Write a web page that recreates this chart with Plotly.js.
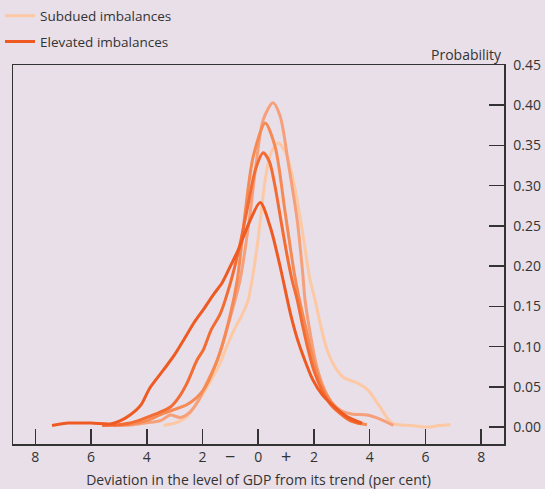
<!DOCTYPE html>
<html>
<head>
<meta charset="utf-8">
<script src="https://cdn.plot.ly/plotly-3.0.1.min.js"></script>
<style>html,body{margin:0;padding:0;background:#e8dfe8;}#chart{width:545px;height:489px;}</style>
</head>
<body>
<div id="chart"></div>
<script>
// Subdued imbalances (lightest)
const subduedX = [-3.4, -2.9, -2.55, -2.2, -1.83, -1.36, -1.18, -0.82, -0.6, -0.36, -0.04, 0.25, 0.45, 0.72, 1.0, 1.3, 1.6, 1.85, 2.04, 2.25, 2.47, 2.75, 3.05, 3.3, 3.55, 3.94, 4.37, 4.8, 5.5, 6.05, 6.5, 6.9];
const subduedY = [0.002, 0.006, 0.013, 0.03, 0.05, 0.08, 0.096, 0.124, 0.138, 0.158, 0.224, 0.307, 0.34, 0.353, 0.34, 0.30, 0.24, 0.185, 0.158, 0.125, 0.096, 0.075, 0.062, 0.058, 0.055, 0.046, 0.025, 0.005, 0.002, 0.0, 0.002, 0.003];

// Intermediate series (light to dark)
const series2X = [-5.0, -4.5, -3.87, -3.5, -3.15, -2.8, -2.44, -2.08, -1.97, -1.47, -1.0, -0.65, -0.29, -0.1, 0.18, 0.53, 0.79, 1.08, 1.4, 1.6, 1.68, 1.9, 2.1, 2.4, 2.7, 3.0, 3.4, 3.9, 4.37, 4.85];
const series2Y = [0.002, 0.003, 0.006, 0.008, 0.015, 0.012, 0.019, 0.037, 0.046, 0.083, 0.137, 0.183, 0.266, 0.32, 0.382, 0.403, 0.386, 0.328, 0.257, 0.19, 0.158, 0.11, 0.075, 0.045, 0.028, 0.02, 0.016, 0.015, 0.01, 0.002];

const series3X = [-5.2, -4.5, -4.0, -3.4, -3.0, -2.55, -1.97, -1.4, -1.0, -0.75, -0.47, -0.18, 0.25, 0.61, 0.97, 1.3, 1.5, 1.75, 2.0, 2.3, 2.6, 2.9, 3.2, 3.5, 3.9];
const series3Y = [0.002, 0.004, 0.008, 0.017, 0.022, 0.028, 0.046, 0.09, 0.14, 0.183, 0.266, 0.336, 0.378, 0.348, 0.266, 0.19, 0.155, 0.117, 0.08, 0.05, 0.032, 0.02, 0.012, 0.006, 0.003];

const series4X = [-5.6, -5.0, -4.6, -4.23, -3.7, -3.15, -2.85, -2.55, -2.2, -1.97, -1.7, -1.36, -1.0, -0.7, -0.4, -0.1, 0.18, 0.4, 0.6, 0.8, 1.0, 1.2, 1.4, 1.6, 1.8, 2.0, 2.3, 2.6, 2.9, 3.3, 3.7];
const series4Y = [0.002, 0.003, 0.005, 0.009, 0.016, 0.025, 0.037, 0.055, 0.083, 0.096, 0.12, 0.141, 0.179, 0.22, 0.27, 0.32, 0.341, 0.33, 0.30, 0.26, 0.22, 0.185, 0.158, 0.125, 0.095, 0.07, 0.045, 0.028, 0.018, 0.008, 0.004];

// Elevated imbalances (darkest)
const elevatedX = [-7.4, -6.8, -6.0, -5.3, -5.0, -4.6, -4.2, -3.9, -3.4, -3.0, -2.68, -2.3, -1.97, -1.6, -1.3, -1.0, -0.72, -0.29, 0.07, 0.43, 0.79, 1.15, 1.4, 1.63, 1.97, 2.3, 2.58, 3.18, 3.73];
const elevatedY = [0.002, 0.005, 0.005, 0.004, 0.007, 0.015, 0.028, 0.048, 0.071, 0.09, 0.108, 0.13, 0.146, 0.165, 0.179, 0.2, 0.22, 0.257, 0.279, 0.249, 0.199, 0.142, 0.11, 0.087, 0.058, 0.04, 0.03, 0.013, 0.005];

const xTickVals = [-8, -6, -4, -2, 0, 2, 4, 6, 8];
const xTickText = ['8', '6', '4', '2', '0', '2', '4', '6', '8'];
const yTickVals = [0, 0.05, 0.10, 0.15, 0.20, 0.25, 0.30, 0.35, 0.40, 0.45];

const colors = ['#fdc9a4', '#f5a07a', '#f58a55', '#f36c34', '#ee5a22'];
const textColor = '#333333';
const font = 'Open Sans, sans-serif';

function tr(x, y, color, name, showlegend) {
  return {x: x, y: y, type: 'scatter', mode: 'lines', name: name,
          showlegend: showlegend, legendgroup: name,
          line: {color: color, width: 3, shape: 'spline', smoothing: 0.8},
          hoverinfo: 'skip'};
}

const data = [
  tr(subduedX, subduedY, colors[0], 'Subdued imbalances', true),
  tr(series2X, series2Y, colors[1], 's2', false),
  tr(series3X, series3Y, colors[2], 's3', false),
  tr(series4X, series4Y, colors[3], 's4', false),
  tr(elevatedX, elevatedY, colors[4], 'Elevated imbalances', true)
];

const layout = {
  width: 545, height: 489,
  paper_bgcolor: '#e8dfe8', plot_bgcolor: '#e8dfe8',
  margin: {l: 13, r: 41, t: 65, b: 45, autoexpand: false},
  font: {family: font, size: 14, color: textColor},
  showlegend: true,
  legend: {x: -0.0265, y: 1.17, xanchor: 'left', yanchor: 'top', bgcolor: 'rgba(0,0,0,0)',
           font: {family: font, size: 13.5, color: textColor}, tracegroupgap: 5, traceorder: 'grouped'},
  xaxis: {range: [-8.8, 8.82], tickvals: xTickVals, ticktext: xTickText, automargin: false,
          ticks: 'inside', ticklen: 15, tickwidth: 1.5, tickcolor: '#333',
          showline: true, mirror: true, linecolor: '#333', linewidth: 1.5,
          showgrid: false, zeroline: false,
          tickfont: {family: font, size: 14, color: textColor},
          title: {text: 'Deviation in the level of GDP from its trend (per cent)', font: {family: font, size: 14, color: textColor}, standoff: 12}},
  yaxis: {range: [-0.021, 0.45], tickvals: yTickVals, tickformat: '.2f', side: 'right', automargin: false,
          ticks: 'inside', ticklen: 15, tickwidth: 1.5, tickcolor: '#333', ticklabelstandoff: 5,
          showline: true, mirror: true, linecolor: '#333', linewidth: 1.5,
          showgrid: false, zeroline: false,
          tickfont: {family: font, size: 14, color: textColor}},
  annotations: [
    {x: 1, y: 1.029, xref: 'paper', yref: 'paper', xanchor: 'right', yanchor: 'middle',
     text: 'Probability', showarrow: false, font: {family: font, size: 14, color: textColor}},
    {x: -1, y: -0.032, xref: 'x', yref: 'paper', xanchor: 'center', yanchor: 'middle',
     text: '−', showarrow: false, font: {family: font, size: 18, color: textColor}},
    {x: 1, y: -0.032, xref: 'x', yref: 'paper', xanchor: 'center', yanchor: 'middle',
     text: '+', showarrow: false, font: {family: font, size: 18, color: textColor}}
  ]
};

Plotly.newPlot('chart', data, layout, {displayModeBar: false, staticPlot: true});
</script>
</body>
</html>
